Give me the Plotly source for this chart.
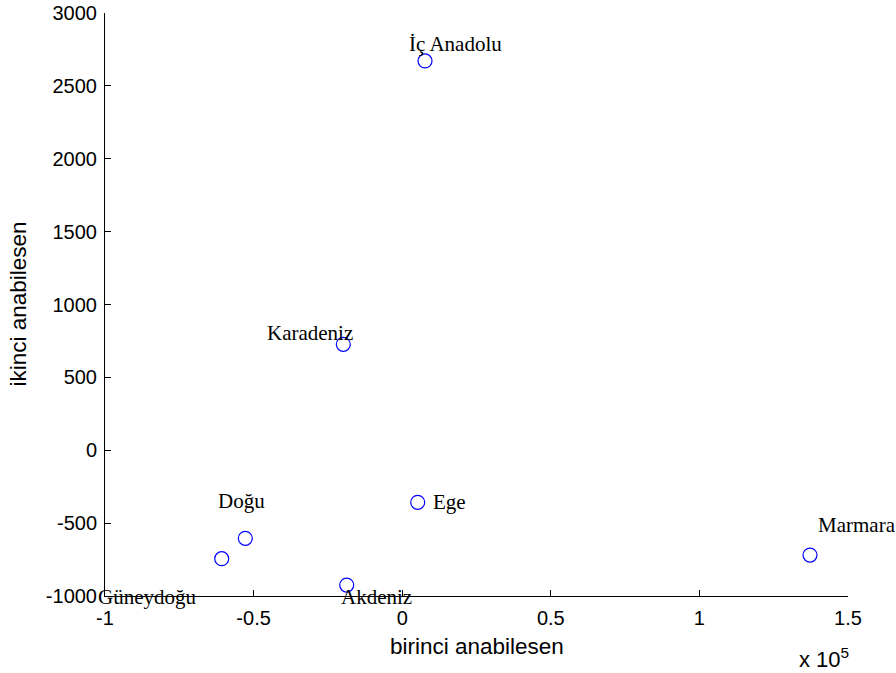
import plotly.graph_objects as go

# Data
regions = ["İç Anadolu", "Karadeniz", "Ege", "Doğu", "Güneydoğu", "Akdeniz", "Marmara"]
pc1 = [7670, -19820, 5220, -52790, -60730, -18670, 137210]
pc2 = [2671, 727, -357, -604, -744, -925, -719]
x_ticks = [-100000, -50000, 0, 50000, 100000, 150000]
x_tick_labels = ["-1", "-0.5", "0", "0.5", "1", "1.5"]
y_ticks = [-1000, -500, 0, 500, 1000, 1500, 2000, 2500, 3000]

# label pixel offsets (style only)
label_dx = [-18, -78, 13, -29, -126, -8, 6]
label_dy = [17, 11, 0, 37, -38, -12, 30]

fig = go.Figure()
fig.add_trace(go.Scatter(
    x=pc1, y=pc2, mode="markers",
    marker=dict(symbol="circle-open", size=14, color="#0000FF", line=dict(width=1.2, color="#0000FF")),
    showlegend=False, hoverinfo="skip", cliponaxis=False))

for name, xv, yv, dx, dy in zip(regions, pc1, pc2, label_dx, label_dy):
    fig.add_annotation(x=xv, y=yv, xref="x", yref="y", text=name, showarrow=False,
                       xanchor="left", yanchor="middle", xshift=dx, yshift=dy,
                       font=dict(family="Liberation Serif", size=21, color="black"))

axis_common = dict(showgrid=False, zeroline=False, showline=True, linecolor="black", linewidth=1,
                   ticks="inside", ticklen=6, tickcolor="black", mirror=False, automargin=False,
                   tickfont=dict(family="Liberation Sans", size=20, color="black"))

fig.update_xaxes(range=[-100000, 150000], tickvals=x_ticks, ticktext=x_tick_labels,
                 ticklabelstandoff=4, **axis_common)
fig.update_yaxes(range=[-1000, 3000], tickvals=y_ticks, ticktext=[str(v) for v in y_ticks],
                 ticklabelstandoff=3, **axis_common)

fig.add_annotation(x=0.5, y=-0.0858, xref="paper", yref="paper", text="birinci anabilesen",
                   showarrow=False, xanchor="center", yanchor="middle",
                   font=dict(family="Liberation Sans", size=22.5, color="black"))
fig.add_annotation(x=-0.117, y=0.5, xref="paper", yref="paper", text="ikinci anabilesen",
                   showarrow=False, xanchor="center", yanchor="middle", textangle=-90,
                   font=dict(family="Liberation Sans", size=22.5, color="black"))
fig.add_annotation(x=0.9314, y=-0.1063, xref="paper", yref="paper", text="x 10<sup>5</sup>",
                   showarrow=False, xanchor="left", yanchor="middle",
                   font=dict(family="Liberation Sans", size=22, color="black"))

fig.update_layout(width=896, height=673, plot_bgcolor="white", paper_bgcolor="white",
                  margin=dict(l=105, r=48, t=13, b=77), autosize=False)

fig.write_html("out.html", config={"displayModeBar": False},
               post_script="document.body.style.margin='0';document.body.style.overflow='hidden';")
